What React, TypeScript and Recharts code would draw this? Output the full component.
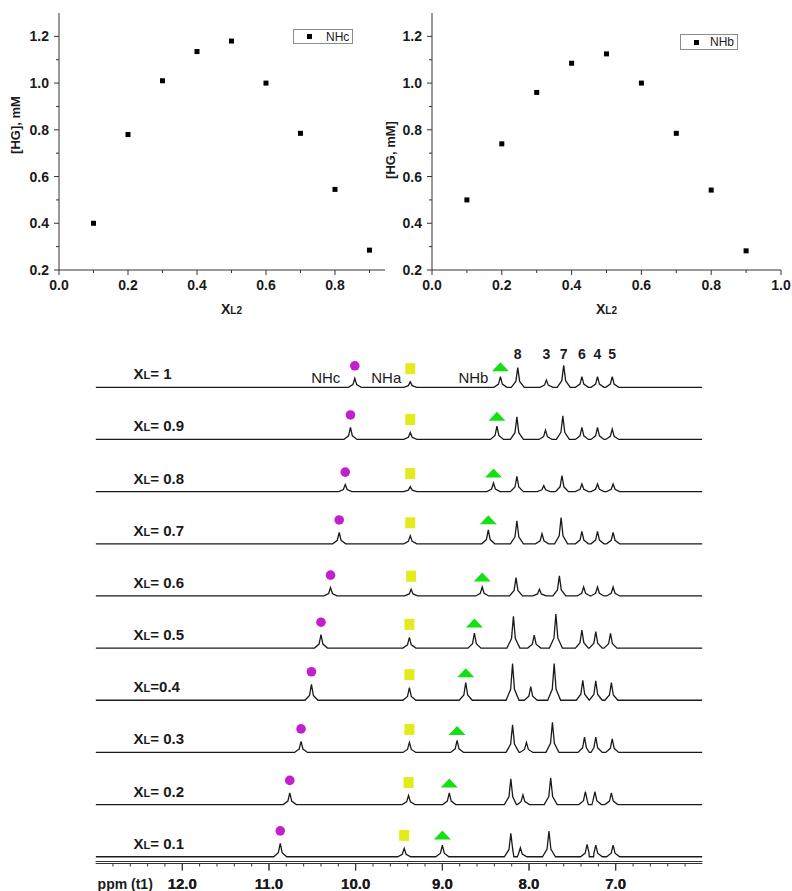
import React from 'react';
import {
  ScatterChart,
  Scatter,
  XAxis,
  YAxis,
  Legend,
  LineChart,
  Line,
  ReferenceDot,
  ReferenceLine,
} from 'recharts';

const FONT = 'Arial, "Liberation Sans", Helvetica, sans-serif';
const INK = '#1a1a1a';
const AXIS = '#333';

// Job plot: complex concentration vs mole fraction of L2
const molFractionL2 = [0.1, 0.2, 0.3, 0.4, 0.5, 0.6, 0.7, 0.8, 0.9];
const hgFromNHc = [0.4, 0.78, 1.01, 1.135, 1.18, 1.0, 0.785, 0.545, 0.285];
const hgFromNHb = [0.5, 0.74, 0.96, 1.085, 1.125, 1.0, 0.785, 0.542, 0.282];
const jobXTicks = [0, 0.1, 0.2, 0.3, 0.4, 0.5, 0.6, 0.7, 0.8, 0.9, 1.0];
const jobYTicks = [0.2, 0.3, 0.4, 0.5, 0.6, 0.7, 0.8, 0.9, 1.0, 1.1, 1.2];

// 1H NMR stack, top trace first
const xlTexts = ['= 1', '= 0.9', '= 0.8', '= 0.7', '= 0.6', '= 0.5', '=0.4', '= 0.3', '= 0.2', '= 0.1'];
const signalNames = ['NHc', 'NHa', 'NHb', '8', '3', '7', '6', '4', '5'];
const shiftsPpm = [
  [10.01, 9.37, 8.33, 8.13, 7.8, 7.6, 7.39, 7.21, 7.04],
  [10.06, 9.37, 8.37, 8.14, 7.81, 7.61, 7.39, 7.21, 7.04],
  [10.12, 9.37, 8.41, 8.14, 7.83, 7.62, 7.39, 7.21, 7.03],
  [10.19, 9.37, 8.47, 8.14, 7.85, 7.63, 7.39, 7.21, 7.03],
  [10.29, 9.36, 8.54, 8.15, 7.88, 7.65, 7.37, 7.21, 7.03],
  [10.4, 9.38, 8.63, 8.18, 7.94, 7.69, 7.39, 7.23, 7.06],
  [10.51, 9.38, 8.73, 8.19, 7.98, 7.71, 7.38, 7.23, 7.05],
  [10.63, 9.38, 8.83, 8.19, 8.03, 7.73, 7.36, 7.23, 7.04],
  [10.76, 9.39, 8.92, 8.21, 8.07, 7.75, 7.35, 7.24, 7.05],
  [10.87, 9.44, 9.0, 8.21, 8.1, 7.77, 7.33, 7.23, 7.03],
];
const peakHeights = [
  [9, 5.6, 10.6, 19.6, 7.3, 22, 10.6, 10.6, 10.6],
  [12, 7, 13.3, 22.6, 9.3, 23.6, 12, 12, 10.3],
  [7, 5, 8.6, 15.3, 6, 16, 7.6, 7.6, 7.6],
  [11.3, 8, 14, 23, 10, 26.3, 12.3, 12.3, 11.3],
  [8.3, 6.7, 9, 18.3, 6.7, 20, 9, 9, 9],
  [13.4, 10.7, 15, 31.7, 13, 34, 18, 16.4, 14.7],
  [16, 12.6, 17.6, 36.6, 13.6, 36.6, 20, 19.3, 17.6],
  [11, 10, 12, 27.6, 10, 30, 15.3, 15.3, 13.6],
  [11.7, 9, 11.7, 25.7, 9.7, 26.7, 13, 13, 11.7],
  [13.4, 8.4, 11.7, 23.4, 9, 25.7, 12.4, 11.7, 11.7],
];
const ppmLabels = [7, 8, 9, 10, 11, 12];

// stack layout (y units = px)
const STACK_TOP = 476.2;
const STACK_STEP = 52.16;
// peak outline: narrow tip, flared base
const PEAK_FOOT = 0.075;
const PEAK_NECK = 0.022;
const NECK_LEVEL = 0.3;
const baseOf = (i: number) => STACK_TOP - STACK_STEP * i;

const ppmTicks: number[] = [];
for (let t = 62; t <= 128; t += 2) ppmTicks.push(t / 10);

const traces = shiftsPpm.map((row, i) => {
  const base = baseOf(i);
  const pts = [
    { ppm: 13, v: base },
    { ppm: 6, v: base },
  ];
  row.forEach((p, j) => {
    const h = peakHeights[i][j];
    pts.push({ ppm: p + PEAK_FOOT, v: base });
    pts.push({ ppm: p + PEAK_NECK, v: base + h * NECK_LEVEL });
    pts.push({ ppm: p, v: base + h });
    pts.push({ ppm: p - PEAK_NECK, v: base + h * NECK_LEVEL });
    pts.push({ ppm: p - PEAK_FOOT, v: base });
  });
  pts.sort((a, b) => b.ppm - a.ppm);
  return pts;
});

const squareMark = (p: any) => (
  <rect x={p.cx - 2.5} y={p.cy - 2.5} width={5} height={5} fill="#000" />
);

function JobXTick({ x, y, payload }: any) {
  const v = payload.value;
  const major = Math.round(v * 10) % 2 === 0;
  return (
    <g>
      <line x1={x} x2={x} y1={y} y2={y + (major ? 5 : 3)} stroke={AXIS} />
      {major && (
        <text x={x} y={y + 20} textAnchor="middle" fontSize={14} fontWeight="bold" fill={INK} fontFamily={FONT}>
          {v.toFixed(1)}
        </text>
      )}
    </g>
  );
}

function JobYTick({ x, y, payload }: any) {
  const v = payload.value;
  const major = Math.round(v * 10) % 2 === 0;
  return (
    <g>
      <line x1={x} x2={x - (major ? 5 : 3)} y1={y} y2={y} stroke={AXIS} />
      {major && (
        <text x={x - 10} y={y + 5} textAnchor="end" fontSize={14} fontWeight="bold" fill={INK} fontFamily={FONT}>
          {v.toFixed(1)}
        </text>
      )}
    </g>
  );
}

interface JobPlotProps {
  values: number[];
  name: string;
  yTitle: string;
  xMax: number;
  width: number;
  yAxisWidth: number;
  marginRight: number;
  legendBox: { left: number; top: number; width: number; height: number; dot: number; text: number };
  yTitleX: number;
  yTitleY: number;
}

function JobPlot({ values, name, yTitle, xMax, width, yAxisWidth, marginRight, legendBox, yTitleX, yTitleY }: JobPlotProps) {
  const data = molFractionL2.map((x, i) => ({ x, y: values[i] }));
  return (
    <ScatterChart width={width} height={320} margin={{ top: 13, right: marginRight, bottom: 0, left: 0 }}>
      <XAxis
        type="number"
        dataKey="x"
        domain={[0, xMax]}
        allowDataOverflow
        ticks={jobXTicks.filter((t) => t <= xMax)}
        interval={0}
        tickSize={0}
        tickMargin={0}
        tickLine={false}
        tick={<JobXTick />}
        axisLine={{ stroke: AXIS }}
        height={50}
        label={(p: any) => {
          const vb = p.viewBox;
          const cx = vb.x + (vb.width * 0.5) / xMax;
          return (
            <text x={cx} y={vb.y + 44} textAnchor="middle" fontWeight="bold" fill={INK} fontFamily={FONT}>
              <tspan fontSize={14}>X</tspan>
              <tspan fontSize={10}>L2</tspan>
            </text>
          );
        }}
      />
      <YAxis
        type="number"
        dataKey="y"
        domain={[0.2, 1.3]}
        allowDataOverflow
        ticks={jobYTicks}
        interval={0}
        tickSize={0}
        tickMargin={0}
        tickLine={false}
        tick={<JobYTick />}
        axisLine={{ stroke: AXIS }}
        width={yAxisWidth}
        label={() => (
          <text
            x={yTitleX}
            y={yTitleY}
            transform={`rotate(-90 ${yTitleX} ${yTitleY})`}
            textAnchor="middle"
            dominantBaseline="central"
            fontSize={13}
            fontWeight="bold"
            fill={INK}
            fontFamily={FONT}
          >
            {yTitle}
          </text>
        )}
      />
      <Legend
        layout="vertical"
        align="center"
        verticalAlign="middle"
        wrapperStyle={{ left: legendBox.left, top: legendBox.top, width: legendBox.width, height: legendBox.height }}
        content={() => (
          <div
            style={{
              position: 'relative',
              width: legendBox.width,
              height: legendBox.height,
              boxSizing: 'border-box',
              border: '1px solid #8c8c8c',
              fontFamily: FONT,
              fontSize: 12,
              color: INK,
            }}
          >
            <span
              style={{
                position: 'absolute',
                left: legendBox.dot - 2.5,
                top: legendBox.height / 2 - 3.5,
                width: 5,
                height: 5,
                background: '#000',
              }}
            />
            <span style={{ position: 'absolute', left: legendBox.text, top: legendBox.height / 2 - 8, lineHeight: '14px' }}>
              {name}
            </span>
          </div>
        )}
      />
      <Scatter data={data} shape={squareMark} isAnimationActive={false} />
    </ScatterChart>
  );
}

function PpmTick({ x, y, payload }: any) {
  const v = payload.value;
  const major = Math.abs(v - Math.round(v)) < 1e-6;
  return (
    <g>
      <line x1={x} x2={x} y1={y} y2={y + (major ? 7 : 3)} stroke={AXIS} />
      {major && ppmLabels.includes(Math.round(v)) && (
        <text x={x} y={y + 25} textAnchor="middle" fontSize={15} fontWeight="bold" fill={INK} fontFamily={FONT}>
          {v.toFixed(1)}
        </text>
      )}
    </g>
  );
}

const circleShape = (p: any) => <circle cx={p.cx} cy={p.cy} r={4.8} fill="#c21fcf" />;
const squareShape = (p: any) => <rect x={p.cx - 5} y={p.cy - 5.5} width={10} height={11} fill="#e3eb1c" />;
const triangleShape = (p: any) => (
  <polygon
    points={`${p.cx - 8.5},${p.cy + 4.5} ${p.cx + 8.5},${p.cy + 4.5} ${p.cx},${p.cy - 4.5}`}
    fill="#14e014"
  />
);

const nhLabelShift = [-29, -24, -27];

function NmrStack() {
  const top = shiftsPpm[0];
  return (
    <LineChart width={792} height={556} margin={{ top: 0, right: 89.6, bottom: 0, left: 95.6 }}>
      <XAxis
        type="number"
        dataKey="ppm"
        domain={[6, 13]}
        reversed
        allowDataOverflow
        ticks={[...ppmTicks, ...ppmLabels]}
        interval={0}
        tickSize={0}
        tickMargin={0}
        tickLine={false}
        tick={<PpmTick />}
        axisLine={{ stroke: AXIS }}
        height={27.5}
        label={(p: any) => (
          <text x={p.viewBox.x + 2} y={p.viewBox.y + 25} fontSize={14} fontWeight="bold" fill={INK} fontFamily={FONT}>
            ppm (t1)
          </text>
        )}
      />
      <YAxis hide type="number" domain={[0, 528.5]} allowDataOverflow />
      <ReferenceLine y={2} stroke={AXIS} />
      {traces.map((pts, i) => (
        <Line
          key={`trace-${i}`}
          data={pts}
          dataKey="v"
          type="linear"
          dot={false}
          activeDot={false}
          stroke={INK}
          strokeWidth={1.3}
          isAnimationActive={false}
        />
      ))}
      {shiftsPpm.map((row, i) => {
        const base = baseOf(i);
        const h = peakHeights[i];
        return (
          <React.Fragment key={`marks-${i}`}>
            <ReferenceDot x={row[0]} y={base + h[0] + 12.5} shape={circleShape} />
            <ReferenceDot x={row[1]} y={base + h[1] + 13} shape={squareShape} />
            <ReferenceDot x={row[2]} y={base + h[2] + 10} shape={triangleShape} />
            <ReferenceDot
              x={13}
              y={base + 13}
              shape={(p: any) => (
                <text x={p.cx + 38} y={p.cy + 5} fontWeight="bold" fill={INK} fontFamily={FONT}>
                  <tspan fontSize={15}>X</tspan>
                  <tspan fontSize={11}>L</tspan>
                  <tspan fontSize={15}>{xlTexts[i]}</tspan>
                </text>
              )}
            />
          </React.Fragment>
        );
      })}
      {top.slice(0, 3).map((p, j) => (
        <ReferenceDot
          key={`nh-${j}`}
          x={p}
          y={baseOf(0) + 9.5}
          shape={(d: any) => (
            <text x={d.cx + nhLabelShift[j]} y={d.cy + 5} textAnchor="middle" fontSize={15} fill={INK} fontFamily={FONT}>
              {signalNames[j]}
            </text>
          )}
        />
      ))}
      {top.slice(3).map((p, j) => (
        <ReferenceDot
          key={`num-${j}`}
          x={p}
          y={baseOf(0) + 33}
          shape={(d: any) => (
            <text x={d.cx} y={d.cy + 5} textAnchor="middle" fontSize={14} fontWeight="bold" fill={INK} fontFamily={FONT}>
              {signalNames[j + 3]}
            </text>
          )}
        />
      ))}
    </LineChart>
  );
}

export default function App() {
  return (
    <div
      style={{
        position: 'absolute',
        left: 0,
        top: 0,
        width: 792,
        height: 891,
        background: '#fff',
        overflow: 'hidden',
        fontFamily: FONT,
      }}
    >
      <div style={{ position: 'absolute', left: 0, top: 0 }}>
        <JobPlot
          values={hgFromNHc}
          name="NHc"
          yTitle="[HG], mM"
          xMax={0.945}
          width={390}
          yAxisWidth={59}
          marginRight={5}
          legendBox={{ left: 293, top: 29, width: 60, height: 15, dot: 15, text: 32 }}
          yTitleX={15}
          yTitleY={125}
        />
      </div>
      <div style={{ position: 'absolute', left: 380, top: 0 }}>
        <JobPlot
          values={hgFromNHb}
          name="NHb"
          yTitle="[HG, mM]"
          xMax={1.0}
          width={412}
          yAxisWidth={52}
          marginRight={11}
          legendBox={{ left: 300, top: 34, width: 58, height: 16, dot: 15, text: 29 }}
          yTitleX={10}
          yTitleY={150}
        />
      </div>
      <div style={{ position: 'absolute', left: 0, top: 335 }}>
        <NmrStack />
      </div>
    </div>
  );
}
